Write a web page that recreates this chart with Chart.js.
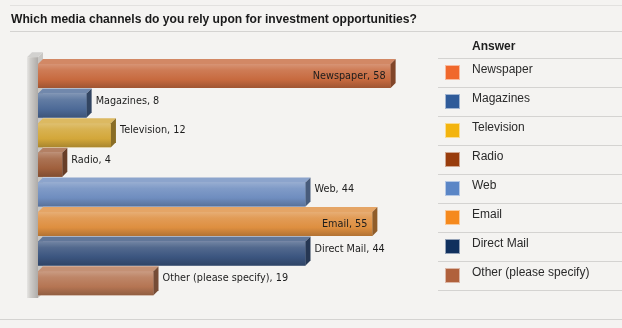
<!DOCTYPE html>
<html>
<head>
<meta charset="utf-8">
<script src="https://cdn.jsdelivr.net/npm/chart.js@4/dist/chart.umd.min.js"></script>
<style>
  html, body { margin: 0; padding: 0; background: #f4f3f1; }
  #wrap { position: relative; width: 622px; height: 328px; overflow: hidden; background: #f4f3f1; }
  #chart { position: absolute; left: 0; top: 0; }
  .rule { position: absolute; height: 1px; background: #d4d3d1; }
  #title { position: absolute; left: 11px; top: 13px; font: bold 12.1px "Liberation Sans", Arial, sans-serif; line-height: 12px; color: #1a1a1a; white-space: nowrap; }
  .lg { position: absolute; font: 12px "Liberation Sans", Arial, sans-serif; line-height: 12px; color: #2a2a2a; white-space: nowrap; }
  .lg.head { font-weight: bold; color: #1e1e1e; }
  .sw { position: absolute; width: 15px; height: 15px; box-sizing: border-box; border: 1px solid rgba(255,255,255,0.55); }
</style>
</head>
<body>
<div id="wrap">
  <canvas id="chart" width="622" height="328"></canvas>
  <div class="rule" style="left:10px; top:5px; width:612px; background:#e2e1df;"></div>
  <div id="title">Which media channels do you rely upon for investment opportunities?</div>
  <div class="rule" style="left:10px; top:31px; width:612px;"></div>
  <div class="rule" style="left:0; top:319px; width:622px;"></div>
  <div id="legend"></div>
</div>
<script>
// Survey answers
const categories = ['Newspaper', 'Magazines', 'Television', 'Radio', 'Web', 'Email', 'Direct Mail', 'Other (please specify)'];
const responses = [58, 8, 12, 4, 44, 55, 44, 19];
const legendTitle = 'Answer';

// Palette: shaded bar faces and flat legend swatches
const barColors = ['#c76a3f', '#4d6a97', '#d3a73a', '#a0603d', '#6f8dbf', '#de8f40', '#3b557f', '#b57553'];
const swatchColors = ['#f0682c', '#2f5b99', '#f3b40e', '#983c0c', '#5b86c6', '#f5891d', '#10305e', '#b0613c'];

const DEPTH = 5;

function shade(hex, amt) {
  const n = parseInt(hex.slice(1), 16);
  let r = (n >> 16) & 255, g = (n >> 8) & 255, b = n & 255;
  const f = c => amt >= 0 ? Math.round(c + (255 - c) * amt) : Math.round(c * (1 + amt));
  return 'rgb(' + f(r) + ',' + f(g) + ',' + f(b) + ')';
}

// Legend table on the right
(function buildLegend() {
  const host = document.getElementById('legend');
  const left = 438, rowH = 29, first = 58;
  const head = document.createElement('div');
  head.className = 'lg head';
  head.style.left = '472px';
  head.style.top = '40px';
  head.textContent = legendTitle;
  host.appendChild(head);
  for (let i = 0; i <= categories.length; i++) {
    const line = document.createElement('div');
    line.className = 'rule';
    line.style.left = left + 'px';
    line.style.width = (622 - left) + 'px';
    line.style.top = (first + i * rowH) + 'px';
    host.appendChild(line);
  }
  categories.forEach((name, i) => {
    const top = first + i * rowH;
    const sw = document.createElement('div');
    sw.className = 'sw';
    sw.style.left = '445px';
    sw.style.top = (top + 7) + 'px';
    sw.style.background = swatchColors[i];
    host.appendChild(sw);
    const t = document.createElement('div');
    t.className = 'lg';
    t.style.left = '472px';
    t.style.top = (top + 5) + 'px';
    t.textContent = name;
    host.appendChild(t);
  });
})();

// Back wall behind the bars, and 3D faces + value labels on top of them
const bars3d = {
  id: 'bars3d',
  beforeDatasetsDraw(chart) {
    const { ctx, chartArea, scales } = chart;
    const x0 = scales.x.getPixelForValue(0);
    const top = chartArea.top - 4, bottom = chartArea.bottom;
    const w = 11;
    ctx.save();
    // side of the wall (hidden mostly by bars)
    ctx.fillStyle = '#c9c7c4';
    ctx.beginPath();
    ctx.moveTo(x0, top); ctx.lineTo(x0 + DEPTH, top - DEPTH);
    ctx.lineTo(x0 + DEPTH, bottom - DEPTH); ctx.lineTo(x0, bottom);
    ctx.closePath(); ctx.fill();
    // top of the wall
    ctx.fillStyle = '#d2d1cf';
    ctx.beginPath();
    ctx.moveTo(x0 - w, top); ctx.lineTo(x0, top);
    ctx.lineTo(x0 + DEPTH, top - DEPTH); ctx.lineTo(x0 - w + DEPTH, top - DEPTH);
    ctx.closePath(); ctx.fill();
    // front of the wall
    const g = ctx.createLinearGradient(x0 - w, 0, x0, 0);
    g.addColorStop(0, '#e6e5e3');
    g.addColorStop(0.3, '#cfcdca');
    g.addColorStop(1, '#aeaba8');
    ctx.fillStyle = g;
    ctx.fillRect(x0 - w, top, w, bottom - top);
    ctx.restore();
  },
  afterDatasetsDraw(chart) {
    const { ctx, chartArea } = chart;
    const meta = chart.getDatasetMeta(0);
    ctx.save();
    meta.data.forEach((el, i) => {
      const p = el.getProps(['x', 'y', 'base', 'height'], true);
      const x1 = p.x, xb = p.base;
      const t = p.y - p.height / 2, b = p.y + p.height / 2;
      const c = barColors[i];
      // front face
      const g = ctx.createLinearGradient(0, t, 0, b);
      g.addColorStop(0, shade(c, 0.28));
      g.addColorStop(0.25, shade(c, 0.12));
      g.addColorStop(0.65, c);
      g.addColorStop(1, shade(c, -0.2));
      ctx.fillStyle = g;
      ctx.fillRect(xb, t, x1 - xb, b - t);
      // top face
      ctx.fillStyle = shade(c, 0.2);
      ctx.beginPath();
      ctx.moveTo(xb, t); ctx.lineTo(x1, t);
      ctx.lineTo(x1 + DEPTH, t - DEPTH); ctx.lineTo(xb + DEPTH, t - DEPTH);
      ctx.closePath(); ctx.fill();
      // right face
      ctx.fillStyle = shade(c, -0.35);
      ctx.beginPath();
      ctx.moveTo(x1, t); ctx.lineTo(x1 + DEPTH, t - DEPTH);
      ctx.lineTo(x1 + DEPTH, b - DEPTH); ctx.lineTo(x1, b);
      ctx.closePath(); ctx.fill();
    });
    // value labels
    ctx.font = '9.7px "DejaVu Sans", Verdana, sans-serif';
    ctx.fillStyle = '#1c1c1c';
    ctx.textBaseline = 'middle';
    meta.data.forEach((el, i) => {
      const p = el.getProps(['x', 'y'], true);
      const text = categories[i] + ', ' + responses[i];
      const tw = ctx.measureText(text).width;
      if (p.x + DEPTH + 4 + tw > chartArea.right) {
        ctx.textAlign = 'right';
        ctx.fillText(text, p.x - 5, p.y + 0.5);
      } else {
        ctx.textAlign = 'left';
        ctx.fillText(text, p.x + DEPTH + 4, p.y - DEPTH + 0.5);
      }
    });
    ctx.restore();
  }
};

new Chart(document.getElementById('chart'), {
  type: 'bar',
  data: {
    labels: categories,
    datasets: [{
      data: responses,
      backgroundColor: barColors,
      borderWidth: 0,
      barPercentage: 0.81,
      categoryPercentage: 1
    }]
  },
  options: {
    indexAxis: 'y',
    responsive: false,
    animation: false,
    devicePixelRatio: 1,
    layout: { padding: { left: 38, right: 201, top: 61.2, bottom: 30 } },
    plugins: { legend: { display: false }, tooltip: { enabled: false } },
    scales: {
      x: { display: false, min: 0, max: 63 },
      y: { display: false }
    }
  },
  plugins: [bars3d]
});
</script>
</body>
</html>
